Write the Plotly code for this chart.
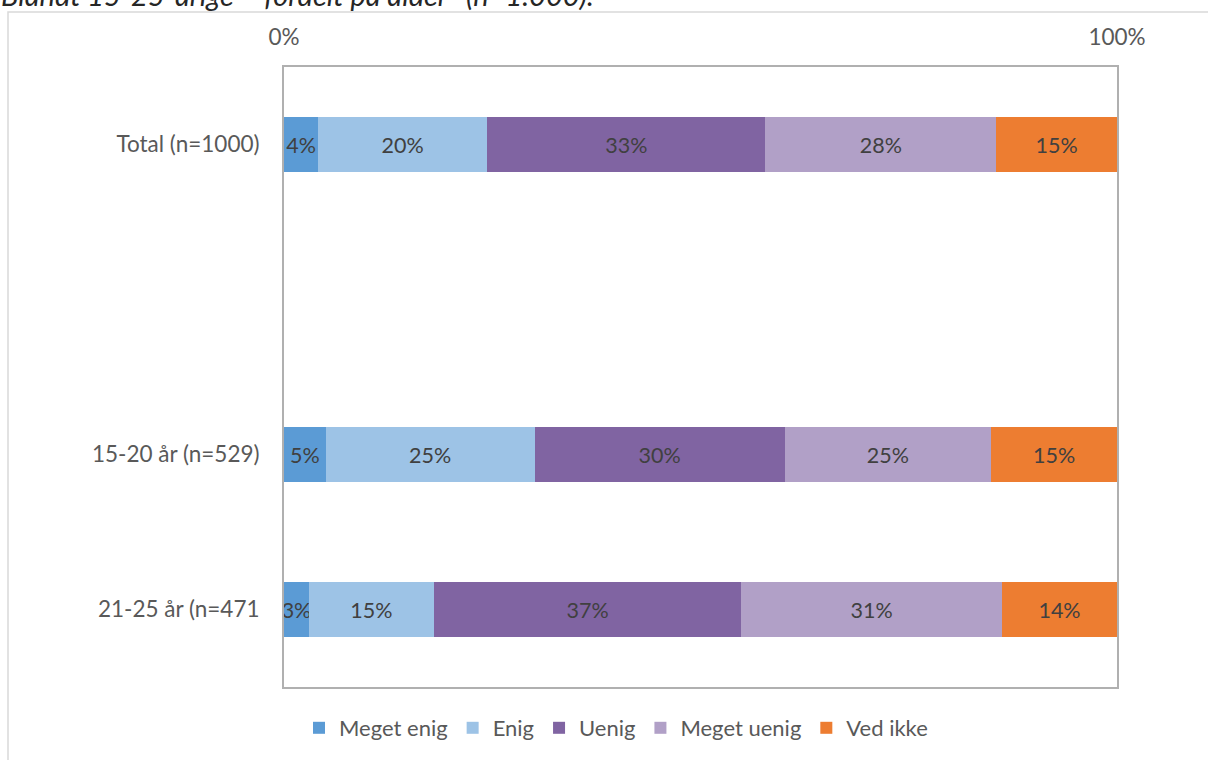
import plotly.graph_objects as go

categories = ["Total (n=1000)", " ", "15-20 år (n=529)", "21-25 år (n=471"]
series_names = ["Meget enig", "Enig", "Uenig", "Meget uenig", "Ved ikke"]
meget_enig = [4.1, None, 5.0, 3.0]
enig = [20.3, None, 25.1, 15.0]
uenig = [33.4, None, 30.0, 36.9]
meget_uenig = [27.7, None, 24.8, 31.3]
ved_ikke = [14.5, None, 15.1, 13.8]
labels = [
    ["4%", "", "5%", "3%"],
    ["20%", "", "25%", "15%"],
    ["33%", "", "30%", "37%"],
    ["28%", "", "25%", "31%"],
    ["15%", "", "15%", "14%"],
]
colors = ["#5B9BD5", "#9DC3E6", "#8064A2", "#B1A0C7", "#ED7D31"]
x_ticks = [0, 100]
x_ticktext = ["0%", "100%"]
title_text = "Blandt 15-25-årige – fordelt på alder* (n=1.000)."

FONT = "Lato, 'Open Sans', sans-serif"
values = [meget_enig, enig, uenig, meget_uenig, ved_ikke]

fig = go.Figure()
for name, vals, lab, col in zip(series_names, values, labels, colors):
    fig.add_trace(go.Bar(
        name=name, y=categories, x=vals, orientation="h",
        marker=dict(color=col, line=dict(width=0)),
        text=lab, textposition="inside", insidetextanchor="middle",
        textangle=0, textfont=dict(color="#404040", size=21.5, family=FONT),
        hoverinfo="skip",
    ))

W, H = 1208, 760
L, R, T, B = 284, 91, 67, 72
pw, ph = W - L - R, H - T - B

def px(xp):
    return (xp - L) / pw

def py(yp):
    return (H - B - yp) / ph

fig.update_layout(
    width=W, height=H,
    margin=dict(l=L, r=R, t=T, b=B),
    barmode="stack", bargap=0.645,
    plot_bgcolor="white", paper_bgcolor="white",
    font=dict(family=FONT, color="#595959", size=22),
    uniformtext=dict(minsize=21.5, mode="show"),
    showlegend=True,
    legend=dict(orientation="h", x=px(299), y=py(728), xanchor="left", yanchor="middle",
                font=dict(size=22, color="#595959", family=FONT),
                traceorder="normal", itemwidth=30, bgcolor="rgba(0,0,0,0)"),
    xaxis=dict(range=[0, 100], side="top", tickvals=x_ticks, ticktext=x_ticktext,
               showgrid=False, zeroline=False, ticks="", ticklabelstandoff=11,
               showline=True, mirror=True, linecolor="#B0B0B0", linewidth=2,
               tickfont=dict(size=22.5, color="#595959")),
    yaxis=dict(categoryorder="array", categoryarray=categories, autorange="reversed",
               showgrid=False, zeroline=False, ticks="", ticklabelstandoff=18,
               showline=True, mirror=True, linecolor="#B0B0B0", linewidth=2,
               tickfont=dict(size=22.5, color="#595959")),
    shapes=[dict(type="rect", xref="paper", yref="paper",
                 x0=px(8), x1=px(1215), y0=py(770), y1=py(12),
                 line=dict(color="#D9D9D9", width=1.5), layer="below")],
    annotations=[dict(text="<i>" + title_text + "</i>", xref="paper", yref="paper",
                      x=px(-1), y=py(-6), xanchor="left", yanchor="middle",
                      showarrow=False, font=dict(size=29, color="#262626", family=FONT))],
)

fig.write_html("out.html", config={"displayModeBar": False},
               post_script="document.body.style.margin='0';")
